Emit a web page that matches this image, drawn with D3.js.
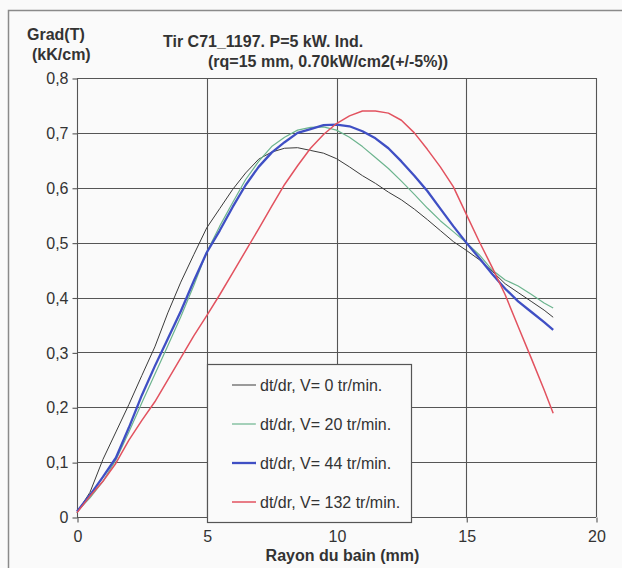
<!DOCTYPE html>
<html>
<head>
<meta charset="utf-8">
<script src="https://cdn.jsdelivr.net/npm/d3@7/dist/d3.min.js"></script>
<style>
  html, body { margin: 0; padding: 0; background: #fafafa; }
  svg { display: block; font-family: "Liberation Sans", Arial, sans-serif; }
</style>
</head>
<body>
<svg id="chart" width="622" height="568"></svg>
<script>
// ---- data ----
const xs = [0,0.5,1,1.5,2,2.5,3,3.5,4,4.5,5,5.5,6,6.5,7,7.5,8,8.5,9,9.5,10,10.5,11,11.5,12,12.5,13,13.5,14,14.5,15,15.5,16,16.5,17,17.5,18,18.35];
const v0 = [0.008,0.045,0.105,0.155,0.205,0.258,0.31,0.372,0.428,0.478,0.527,0.562,0.597,0.627,0.652,0.665,0.672,0.673,0.668,0.663,0.653,0.638,0.622,0.608,0.592,0.578,0.561,0.542,0.522,0.502,0.486,0.469,0.448,0.425,0.409,0.393,0.377,0.364];
const v20 = [0.01,0.035,0.065,0.104,0.155,0.208,0.26,0.312,0.365,0.422,0.483,0.53,0.573,0.615,0.648,0.675,0.692,0.705,0.71,0.711,0.705,0.692,0.675,0.655,0.635,0.612,0.588,0.563,0.54,0.52,0.5,0.478,0.45,0.432,0.421,0.406,0.39,0.381];
const v44 = [0.01,0.04,0.073,0.108,0.163,0.222,0.275,0.325,0.375,0.43,0.482,0.522,0.565,0.605,0.638,0.664,0.683,0.7,0.707,0.714,0.715,0.712,0.703,0.69,0.672,0.648,0.622,0.594,0.562,0.53,0.5,0.472,0.443,0.416,0.393,0.374,0.355,0.341];
const v132 = [0.008,0.038,0.065,0.098,0.14,0.176,0.21,0.25,0.29,0.33,0.367,0.405,0.445,0.485,0.525,0.566,0.606,0.64,0.672,0.697,0.717,0.731,0.74,0.74,0.736,0.723,0.7,0.67,0.638,0.602,0.552,0.502,0.455,0.405,0.347,0.29,0.232,0.189];
const seriesNames = ["dt/dr, V= 0 tr/min.","dt/dr, V= 20 tr/min.","dt/dr, V= 44 tr/min.","dt/dr, V= 132 tr/min."];
const seriesColors = ["#3a3a3a","#6cb48e","#3f4fc4","#e2525f"];
const seriesWidths = [1,1.2,2.3,1.5];
const xTicks = [0,5,10,15,20];
const yTicks = [0,0.1,0.2,0.3,0.4,0.5,0.6,0.7,0.8];
const titleLines = ["Tir C71_1197. P=5 kW. Ind.","(rq=15 mm, 0.70kW/cm2(+/-5%))"];
const yTitle = ["Grad(T)","(kK/cm)"];
const xTitle = "Rayon du bain (mm)";

// ---- drawing ----
const svg = d3.select("#chart");
const x = d3.scaleLinear().domain([0,20]).range([77,596]);
const y = d3.scaleLinear().domain([0,0.8]).range([517,78]);

// outer frame
svg.append("rect").attr("x",8.5).attr("y",10.5).attr("width",640).attr("height",600)
  .attr("fill","#fafafa").attr("stroke","#8a8a8a").attr("stroke-width",1.5);

// grid
const grid = svg.append("g").attr("stroke","#555").attr("stroke-width",1.1);
grid.selectAll(".h").data(yTicks).join("line")
  .attr("x1",x(0)).attr("x2",x(20)).attr("y1",d=>Math.round(y(d))+0.5).attr("y2",d=>Math.round(y(d))+0.5);
grid.selectAll(".v").data(xTicks).join("line")
  .attr("y1",y(0)).attr("y2",y(0.8)).attr("x1",d=>Math.round(x(d))+0.5).attr("x2",d=>Math.round(x(d))+0.5);

const fmtY = d => d === 0 ? "0" : d3.format(".1f")(d).replace(".", ",");
const yAxis = svg.append("g").attr("transform",`translate(${x(0)+0.5},0.5)`)
  .call(d3.axisLeft(y).tickValues(yTicks).tickFormat(fmtY).tickSizeInner(5).tickSizeOuter(0).tickPadding(4));
const xAxis = svg.append("g").attr("transform",`translate(0.5,${y(0)+0.5})`)
  .call(d3.axisBottom(x).tickValues(xTicks).tickFormat(d3.format("d")).tickSizeInner(5).tickSizeOuter(0).tickPadding(8));
[yAxis,xAxis].forEach(a=>{
  a.select(".domain").remove();
  a.selectAll("line").attr("stroke","#555").attr("stroke-width",1.1);
  a.selectAll("text").attr("fill","#333").attr("font-size",16).attr("font-family","Liberation Sans, Arial, sans-serif");
});

// series
const allSeries = [v0,v20,v44,v132];
const line = d3.line().x((d,i)=>x(xs[i])).y(d=>y(d));
allSeries.forEach((s,k)=>{
  svg.append("path").datum(s).attr("d",line).attr("fill","none")
    .attr("stroke",seriesColors[k]).attr("stroke-width",seriesWidths[k]).attr("stroke-linejoin","round");
});

// titles
const tg = svg.append("g").attr("fill","#333").attr("font-weight","bold").attr("font-size",16);
tg.append("text").attr("x",163).attr("y",47).text(titleLines[0]);
tg.append("text").attr("x",208).attr("y",67).text(titleLines[1]);
tg.append("text").attr("x",27).attr("y",40).text(yTitle[0]);
tg.append("text").attr("x",32).attr("y",60).text(yTitle[1]);
tg.append("text").attr("x",(x(0)+x(20))/2+6).attr("y",561).attr("text-anchor","middle").text(xTitle);

// legend
const lg = svg.append("g");
lg.append("rect").attr("x",207.5).attr("y",364.5).attr("width",204).attr("height",158)
  .attr("fill","#fafafa").attr("stroke","#555").attr("stroke-width",1.2);
seriesNames.forEach((n,k)=>{
  const yy = 385 + k*39;
  lg.append("line").attr("x1",232).attr("x2",256).attr("y1",yy).attr("y2",yy)
    .attr("stroke",seriesColors[k]).attr("stroke-width",seriesWidths[k]);
  lg.append("text").attr("x",260).attr("y",yy+5.5).attr("font-size",16).attr("fill","#333").text(n);
});
</script>
</body>
</html>
